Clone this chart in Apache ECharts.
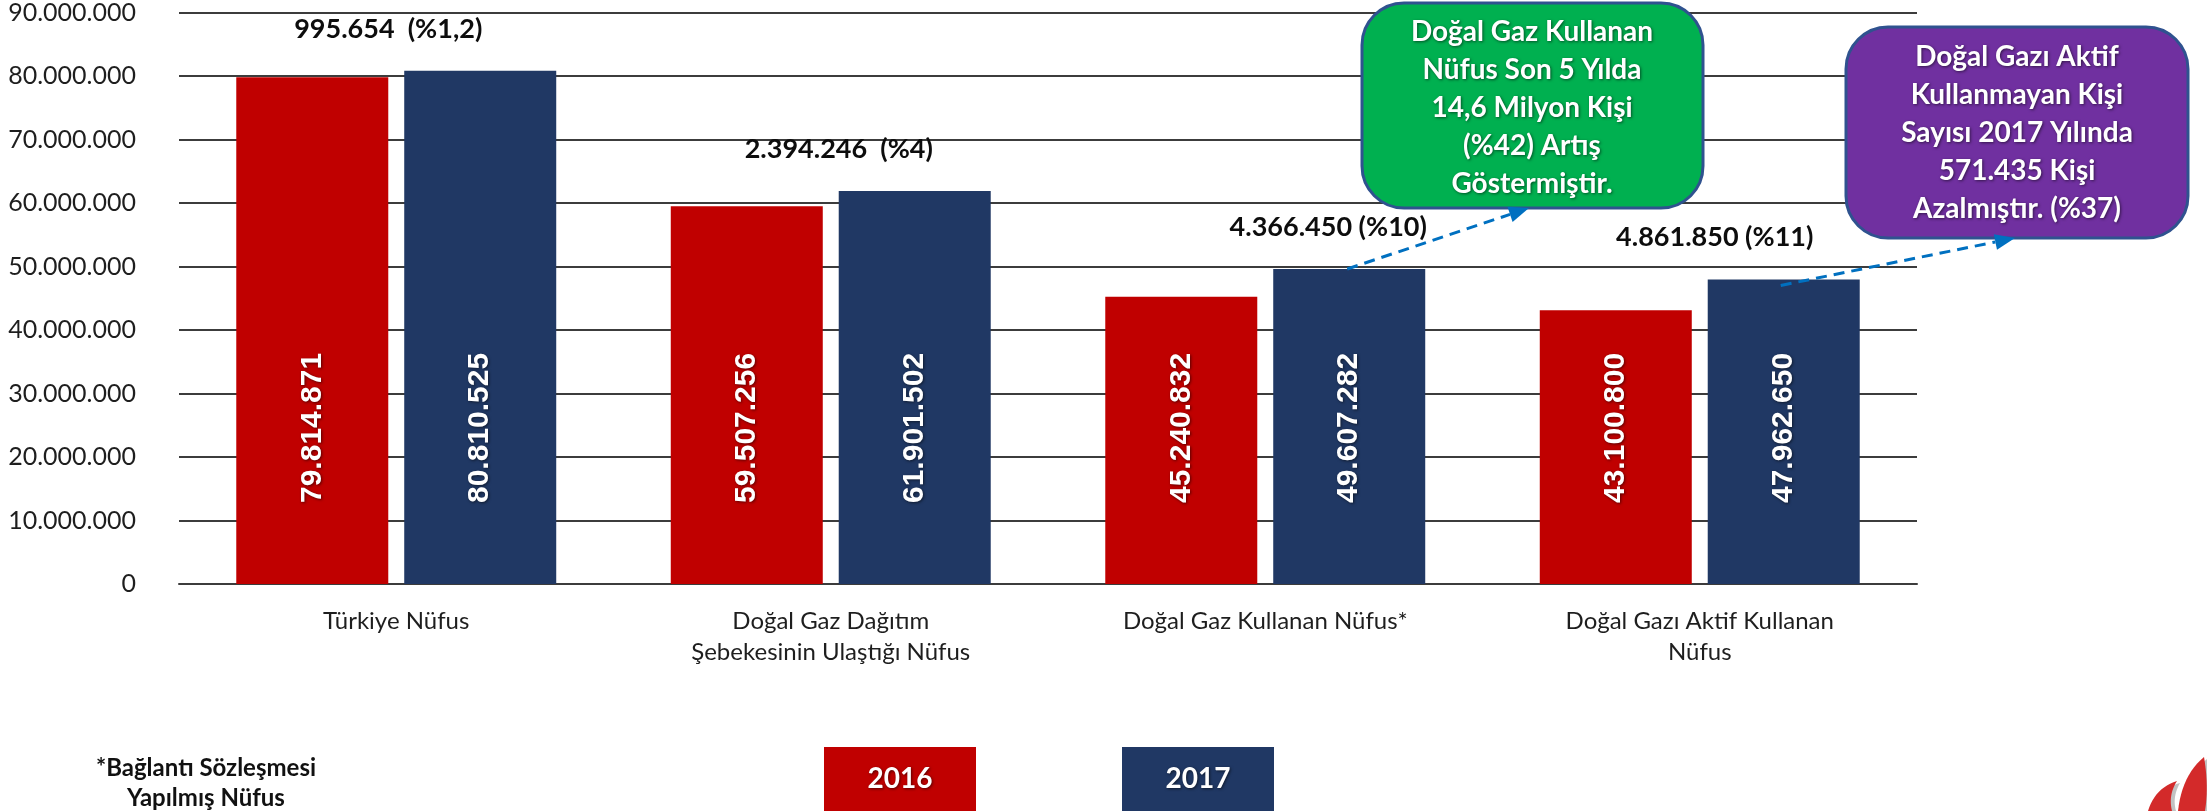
<!DOCTYPE html>
<html>
<head>
<meta charset="utf-8">
<script src="https://cdn.jsdelivr.net/npm/echarts@6/dist/echarts.min.js"></script>
<style>
html,body{margin:0;padding:0;background:#fff;}
#chart{width:2207px;height:811px;}
</style>
</head>
<body>
<div id="chart"></div>
<script>
// ---- data ----
const categories = ['Türkiye Nüfus', 'Doğal Gaz Dağıtım\nŞebekesinin Ulaştığı Nüfus', 'Doğal Gaz Kullanan Nüfus*', 'Doğal Gazı Aktif Kullanan\nNüfus'];
const seriesNames = ['2016', '2017'];
const values2016 = [79814871, 59507256, 45240832, 43100800];
const values2017 = [80810525, 61901502, 49607282, 47962650];
const changeLabels = ['995.654  (%1,2)', '2.394.246  (%4)', '4.366.450 (%10)', '4.861.850 (%11)'];
const yMin = 0, yMax = 90000000, yStep = 10000000;
const calloutGreen = ['Doğal Gaz Kullanan', 'Nüfus Son 5 Yılda', '14,6 Milyon Kişi', '(%42) Artış', 'Göstermiştir.'];
const calloutPurple = ['Doğal Gazı Aktif', 'Kullanmayan Kişi', 'Sayısı 2017 Yılında', '571.435 Kişi', 'Azalmıştır. (%37)'];
const footnote = ['*Bağlantı Sözleşmesi', 'Yapılmış Nüfus'];

// ---- styles ----
const RED = '#C00000', NAVY = '#203864';
const GRID = '#3c3c3c';
const changeLabelDx = [-8, 8, 63, 15];
const FONT = 'Lato, "Open Sans", sans-serif';
const shadow = {textShadowColor: 'rgba(0,0,0,0.55)', textShadowBlur: 3, textShadowOffsetX: 1, textShadowOffsetY: 1};

function fmt(n) { return String(n).replace(/\B(?=(\d{3})+(?!\d))/g, '.'); }

const chart = echarts.init(document.getElementById('chart'), null, {renderer: 'canvas'});

const insideLabel = Object.assign({
  show: true, position: 'insideBottom', distance: 81, rotate: 90,
  align: 'left', verticalAlign: 'middle',
  color: '#fff', fontFamily: '"Liberation Sans", Arial, sans-serif', fontWeight: 'bold', fontSize: 30,
  formatter: p => fmt(p.value)
}, shadow);

const option = {
  animation: false,
  backgroundColor: '#fff',
  grid: {left: 179, right: 290, top: 11, bottom: 227, containLabel: false},
  legend: {
    data: seriesNames, left: 814, top: 742, itemWidth: 0, itemHeight: 0, itemGap: 141,
    selectedMode: false,
    formatter: name => (name === '2016' ? '{r|' : '{b|') + name + '}',
    textStyle: {
      rich: {
        r: Object.assign({backgroundColor: RED, width: 152, height: 64, lineHeight: 64, align: 'center', color: '#fff', fontFamily: FONT, fontWeight: 'bold', fontSize: 28}, shadow),
        b: Object.assign({backgroundColor: NAVY, width: 152, height: 64, lineHeight: 64, align: 'center', color: '#fff', fontFamily: FONT, fontWeight: 'bold', fontSize: 28}, shadow)
      }
    }
  },
  xAxis: {
    type: 'category', data: categories,
    axisLine: {show: true, lineStyle: {color: GRID, width: 2}},
    axisTick: {show: false},
    axisLabel: {interval: 0, margin: 22, color: '#1e1e1e', fontFamily: FONT, fontSize: 24, lineHeight: 31}
  },
  yAxis: {
    type: 'value', min: yMin, max: yMax, interval: yStep,
    axisLine: {show: false}, axisTick: {show: false},
    splitLine: {show: true, lineStyle: {color: GRID, width: 2}},
    axisLabel: {margin: 43, color: '#1e1e1e', fontFamily: FONT, fontSize: 25, padding: [14, 0, 0, 0], formatter: v => fmt(v)}
  },
  series: [
    {name: seriesNames[0], type: 'bar', data: values2016, barWidth: 152, barGap: '10.5%', itemStyle: {color: RED}, label: insideLabel},
    {name: seriesNames[1], type: 'bar', data: values2017, barWidth: 152, barGap: '10.5%', itemStyle: {color: NAVY}, label: insideLabel},
    {name: 'change', type: 'scatter', symbolSize: 0, silent: true, itemStyle: {opacity: 1, color: 'rgba(0,0,0,0)'},
      data: values2017.map((v, i) => ({
        value: v,
        label: {show: true, position: 'top', distance: 27, offset: [changeLabelDx[i], 0], opacity: 1,
          formatter: changeLabels[i], color: '#0d0d0d', fontFamily: FONT, fontWeight: 'bold', fontSize: 27, lineHeight: 30}
      }))
    }
  ],
  graphic: []
};
chart.setOption(option);

// ---- annotations ----
function barTop(seriesIndex, idx) {
  try {
    const l = chart.getModel().getSeriesByIndex(seriesIndex).getData().getItemLayout(idx);
    return [l.x + l.width / 2, Math.min(l.y, l.y + l.height)];
  } catch (e) {
    const p = chart.convertToPixel({xAxisIndex: 0, yAxisIndex: 0}, [idx, values2017[idx]]);
    return [p[0] + 84, p[1]];
  }
}
function calloutBox(id, x, y, w, h, fill, lines, cx, firstY) {
  return [
    {type: 'rect', id: id + 'box', shape: {x: x, y: y, width: w, height: h, r: 42}, style: {fill: fill, stroke: '#2F528F', lineWidth: 3}, z: 10},
    {type: 'text', id: id + 'txt', x: cx, y: firstY - 19, z: 11,
      style: Object.assign({text: lines.join('\n'), fill: '#fff', fontFamily: FONT, fontSize: 28, fontWeight: 'bold', align: 'center', verticalAlign: 'top', lineHeight: 38}, shadow)}
  ];
}
function arrow(id, from, to) {
  const ang = Math.atan2(to[1] - from[1], to[0] - from[0]);
  const L = 20, W = 8;
  const bx = to[0] - L * Math.cos(ang), by = to[1] - L * Math.sin(ang);
  const px = -Math.sin(ang) * W, py = Math.cos(ang) * W;
  return [
    {type: 'line', id: id + 'l', shape: {x1: from[0], y1: from[1], x2: bx, y2: by}, style: {stroke: '#0070C0', lineWidth: 3, lineDash: [11, 7]}, z: 12},
    {type: 'polygon', id: id + 'h', shape: {points: [[to[0], to[1]], [bx + px, by + py], [bx - px, by - py]]}, style: {fill: '#0070C0'}, z: 12}
  ];
}
// quadratic-bezier leaf outline for the decorative logo
function leaf(p0, c1, p1, c2, p2) {
  const pts = [];
  const q = (a, c, b, t) => [(1 - t) * (1 - t) * a[0] + 2 * (1 - t) * t * c[0] + t * t * b[0], (1 - t) * (1 - t) * a[1] + 2 * (1 - t) * t * c[1] + t * t * b[1]];
  for (let i = 0; i <= 12; i++) pts.push(q(p0, c1, p1, i / 12));
  for (let i = 1; i <= 12; i++) pts.push(q(p1, c2, p2, i / 12));
  return pts;
}
const t3 = barTop(1, 2), t4 = barTop(1, 3);
let g = [];
g = g.concat(calloutBox('green', 1362, 3, 341, 205, '#00B050', calloutGreen, 1532, 32));
g = g.concat(calloutBox('purple', 1846, 27, 342, 211, '#7030A0', calloutPurple, 2017, 57));
g = g.concat(arrow('a1', [t3[0] - 2, t3[1]], [1529, 208]));
g = g.concat(arrow('a2', [t4[0] - 3, t4[1] + 6], [2015, 238]));
g.push({type: 'text', id: 'foot', x: 206, y: 753, z: 5,
  style: {text: footnote.join('\n'), fill: '#111', fontFamily: FONT, fontSize: 24, fontWeight: 'bold', align: 'center', verticalAlign: 'top', lineHeight: 30}});
g.push({type: 'polygon', id: 'logoS1', z: 4, shape: {points: leaf([2151, 811], [2158, 789], [2180, 783], [2172, 797], [2176, 811])}, style: {fill: '#9a9a9a', opacity: 0.6}});
g.push({type: 'polygon', id: 'logoS2', z: 4, shape: {points: leaf([2181, 811], [2185, 776], [2207, 759], [2207, 785], [2207, 811])}, style: {fill: '#9a9a9a', opacity: 0.6}});
g.push({type: 'polygon', id: 'logo1', z: 5, shape: {points: leaf([2148, 811], [2155, 788], [2177, 781], [2168, 795], [2172, 811])}, style: {fill: '#D32A2A'}});
g.push({type: 'polygon', id: 'logo2', z: 5, shape: {points: leaf([2178, 811], [2182, 775], [2204, 757], [2209, 786], [2205, 811])}, style: {fill: '#D32A2A'}});
chart.setOption({graphic: g});
</script>
</body>
</html>
